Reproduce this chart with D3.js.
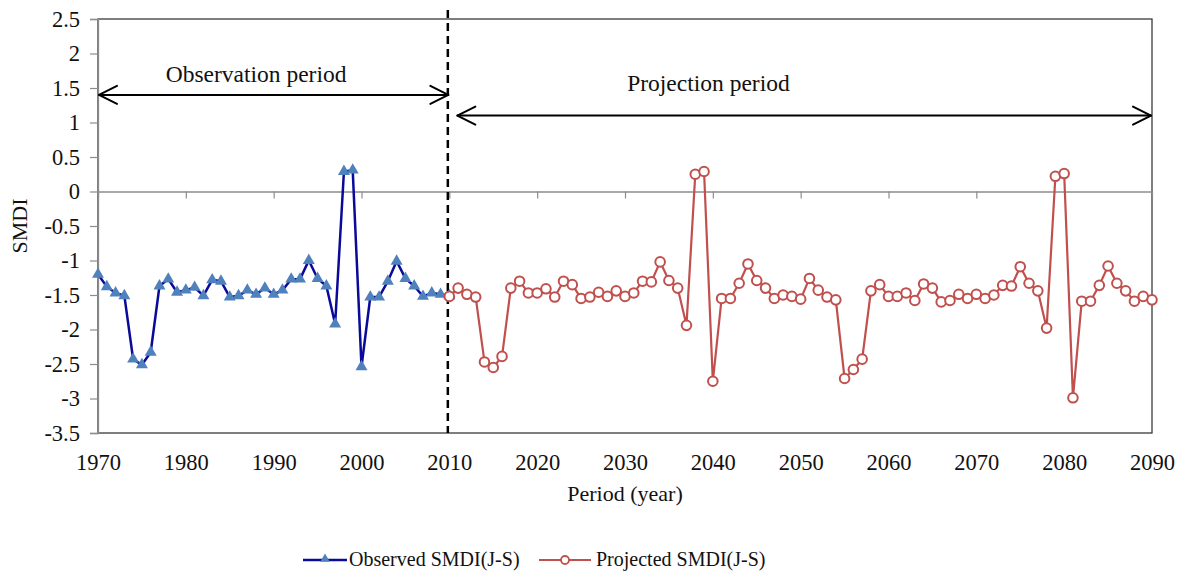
<!DOCTYPE html>
<html>
<head>
<meta charset="utf-8">
<script src="https://cdn.jsdelivr.net/npm/d3@7"></script>
<style>
  html, body { margin: 0; padding: 0; background: #fff; }
</style>
</head>
<body>
<svg id="chart" width="1181" height="576"></svg>
<script>
// Observed SMDI (June–September), 1970–2010
const observedYears = d3.range(1970, 2011);
const observedValues = [
  -1.20, -1.38, -1.47, -1.51, -2.43, -2.51, -2.33, -1.37, -1.27, -1.46,
  -1.43, -1.39, -1.51, -1.28, -1.30, -1.53, -1.51, -1.43, -1.49, -1.40,
  -1.49, -1.43, -1.27, -1.27, -1.00, -1.26, -1.37, -1.92, 0.29, 0.31,
  -2.54, -1.53, -1.53, -1.30, -1.01, -1.26, -1.37, -1.52, -1.47, -1.49,
  -1.51
];

// Projected SMDI (June–September), 2010–2090
const projectedYears = d3.range(2010, 2091);
const projectedValues = [
  -1.52, -1.40, -1.49, -1.53, -2.47, -2.55, -2.39, -1.40, -1.30, -1.47,
  -1.47, -1.41, -1.53, -1.30, -1.35, -1.55, -1.53, -1.46, -1.52, -1.44,
  -1.52, -1.47, -1.30, -1.31, -1.02, -1.29, -1.40, -1.94, 0.25, 0.29,
  -2.75, -1.55, -1.55, -1.33, -1.05, -1.29, -1.40, -1.55, -1.50, -1.52,
  -1.56, -1.26, -1.43, -1.53, -1.57, -2.71, -2.58, -2.43, -1.44, -1.35,
  -1.52, -1.52, -1.47, -1.58, -1.34, -1.40, -1.60, -1.58, -1.49, -1.55,
  -1.49, -1.55, -1.50, -1.36, -1.37, -1.09, -1.33, -1.44, -1.98, 0.22,
  0.26, -2.99, -1.59, -1.59, -1.36, -1.08, -1.33, -1.44, -1.59, -1.52,
  -1.57
];

const xTicks = d3.range(1970, 2091, 10);
const yTicks = d3.range(-3.5, 2.51, 0.5);

// Period markers: [label, start year, end year, arrow level, label year, label level]
const periods = [
  ["Observation period", 1970, 2010, 1.40, 1988.0, 1.58],
  ["Projection period", 2010.8, 2090, 1.10, 2039.5, 1.45]
];
const splitYear = 2010;

const SERIF = "'Liberation Serif', 'Times New Roman', Times, serif";
const INK = "#111";

const svg = d3.select("#chart")
  .attr("font-family", SERIF);
const plotLeft = 98, plotRight = 1152, plotTop = 19, plotBottom = 433;

const x = d3.scaleLinear().domain([1970, 2090]).range([plotLeft, plotRight]);
const y = d3.scaleLinear().domain([-3.5, 2.5]).range([plotBottom, plotTop]);

// plot frame
svg.append("rect")
  .attr("x", plotLeft).attr("y", plotTop)
  .attr("width", plotRight - plotLeft).attr("height", plotBottom - plotTop)
  .attr("fill", "none").attr("stroke", "#3a3a3a").attr("stroke-width", 1.3);

// y axis
const yAxis = svg.append("g")
  .attr("transform", `translate(${plotLeft},0)`)
  .call(d3.axisLeft(y).tickValues(yTicks).tickSize(8).tickPadding(10)
    .tickFormat(d => String(Math.round(d * 10) / 10)));
yAxis.attr("font-family", SERIF).attr("font-size", 22.5);
yAxis.select(".domain").attr("stroke", "#8c8c8c").attr("stroke-width", 1.3);
yAxis.selectAll(".tick line").attr("stroke", "#8c8c8c").attr("stroke-width", 1.2);
yAxis.selectAll(".tick text").attr("fill", INK).attr("font-family", SERIF);

// x axis line through zero, with tick marks
const zeroAxis = svg.append("g")
  .attr("transform", `translate(0,${y(0)})`)
  .call(d3.axisBottom(x).tickValues(xTicks).tickSize(7).tickSizeOuter(0).tickFormat(""));
zeroAxis.select(".domain").attr("stroke", "#8c8c8c").attr("stroke-width", 1.3);
zeroAxis.selectAll(".tick line").attr("stroke", "#8c8c8c").attr("stroke-width", 1.2);

// x tick labels below the frame
const xLabels = svg.append("g")
  .attr("transform", `translate(0,${plotBottom})`)
  .call(d3.axisBottom(x).tickValues(xTicks).tickSize(0).tickPadding(21).tickFormat(d3.format("d")));
xLabels.attr("font-family", SERIF).attr("font-size", 22.5);
xLabels.select(".domain").remove();
xLabels.selectAll(".tick text").attr("fill", INK).attr("font-family", SERIF);

// axis titles
svg.append("text")
  .attr("x", (plotLeft + plotRight) / 2).attr("y", 501)
  .attr("text-anchor", "middle").attr("font-size", 22)
  .attr("font-family", SERIF).attr("fill", INK)
  .text("Period (year)");
svg.append("text")
  .attr("transform", `translate(27,${(plotTop + plotBottom) / 2}) rotate(-90)`)
  .attr("text-anchor", "middle").attr("font-size", 22)
  .attr("font-family", SERIF).attr("fill", INK)
  .text("SMDI");

// split between observation and projection
svg.append("line")
  .attr("x1", x(splitYear) - 1.5).attr("x2", x(splitYear) - 1.5)
  .attr("y1", 10).attr("y2", plotBottom)
  .attr("stroke", "#000").attr("stroke-width", 2.5)
  .attr("stroke-dasharray", "8,5");

// double-headed period arrows
const head = 18, half = 9;
periods.forEach(([label, y0, y1, lvl, ly, ll]) => {
  const xa = x(y0) + 1, xb = x(y1) - 1, yy = y(lvl);
  const g = svg.append("g").attr("fill", "none").attr("stroke", "#000")
    .attr("stroke-width", 2).attr("stroke-linecap", "round").attr("stroke-linejoin", "round");
  g.append("line").attr("x1", xa).attr("x2", xb).attr("y1", yy).attr("y2", yy);
  g.append("path").attr("d", `M${xa + head},${yy - half}L${xa},${yy}L${xa + head},${yy + half}`);
  g.append("path").attr("d", `M${xb - head},${yy - half}L${xb},${yy}L${xb - head},${yy + half}`);
  svg.append("text")
    .attr("x", x(ly)).attr("y", y(ll))
    .attr("text-anchor", "middle").attr("font-size", 23.5)
    .attr("font-family", SERIF).attr("fill", INK)
    .text(label);
});

// series
const line = d3.line().x(d => x(d[0])).y(d => y(d[1]));
const obs = observedYears.map((yr, i) => [yr, observedValues[i]]);
const proj = projectedYears.map((yr, i) => [yr, projectedValues[i]]);

svg.append("path").datum(obs)
  .attr("fill", "none").attr("stroke", "#0a0a9a").attr("stroke-width", 2.5)
  .attr("d", line);

const tri = d3.symbol().type(d3.symbolTriangle).size(62);
svg.append("g").selectAll("path").data(obs).join("path")
  .attr("transform", d => `translate(${x(d[0])},${y(d[1])})`)
  .attr("d", tri)
  .attr("fill", "#4f81bd");

svg.append("path").datum(proj)
  .attr("fill", "none").attr("stroke", "#c0504d").attr("stroke-width", 2.2)
  .attr("d", line);

svg.append("g").selectAll("circle").data(proj).join("circle")
  .attr("cx", d => x(d[0])).attr("cy", d => y(d[1]))
  .attr("r", 4.8)
  .attr("fill", "#fff").attr("stroke", "#c0504d").attr("stroke-width", 2);

// legend
const leg = svg.append("g");
leg.append("line").attr("x1", 303).attr("x2", 347).attr("y1", 560).attr("y2", 560)
  .attr("stroke", "#0a0a9a").attr("stroke-width", 2.5);
leg.append("path").attr("transform", "translate(325,559)").attr("d", d3.symbol().type(d3.symbolTriangle).size(40))
  .attr("fill", "#4f81bd");
leg.append("text").attr("x", 349).attr("y", 566).attr("font-size", 20)
  .attr("font-family", SERIF).attr("fill", INK).text("Observed SMDI(J-S)");

leg.append("line").attr("x1", 539).attr("x2", 591).attr("y1", 560).attr("y2", 560)
  .attr("stroke", "#c0504d").attr("stroke-width", 2.2);
leg.append("circle").attr("cx", 565).attr("cy", 560).attr("r", 4)
  .attr("fill", "#fff").attr("stroke", "#c0504d").attr("stroke-width", 1.8);
leg.append("text").attr("x", 596).attr("y", 566).attr("font-size", 20)
  .attr("font-family", SERIF).attr("fill", INK).text("Projected SMDI(J-S)");
</script>
</body>
</html>
